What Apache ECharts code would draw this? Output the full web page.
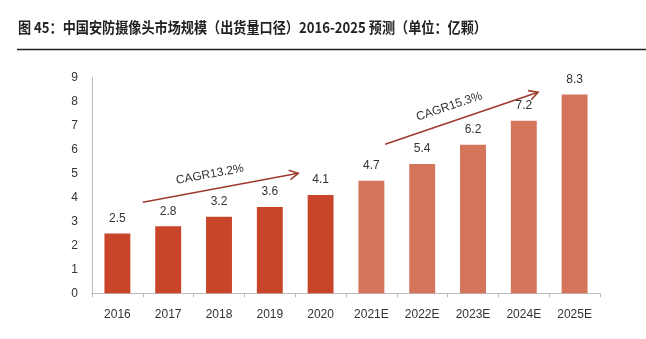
<!DOCTYPE html>
<html><head><meta charset="utf-8">
<script src="https://cdn.jsdelivr.net/npm/echarts@6/dist/echarts.min.js"></script>
<style>html,body{margin:0;padding:0;background:#fff}#c{width:646px;height:339px}</style>
</head><body><div id="c"></div>
<script>
const categories = ['2016','2017','2018','2019','2020','2021E','2022E','2023E','2024E','2025E'];
const values = [2.5, 2.8, 3.2, 3.6, 4.1, 4.7, 5.4, 6.2, 7.2, 8.3];
const yTicks = [0,1,2,3,4,5,6,7,8,9];
const forecastStart = 5;
// annotation arrows: [x-index (fractional), value] start/end, label
const arrow1 = {from:[0.5,3.8], to:[3.56,5.01], text:'CAGR13.2%'};
const arrow2 = {from:[5.27,6.22], to:[8.28,8.39], text:'CAGR15.3%'};

const dark = '#C8452A', light = '#D3745B', arrowColor = '#9E3B2E';
const chart = echarts.init(document.getElementById('c'));
const font = '"Liberation Sans", Arial, sans-serif';
chart.setOption({
  animation:false,
  grid:{left:92,right:46,top:77.7,bottom:45.7},
  xAxis:{type:'category',data:categories,
    axisLine:{lineStyle:{color:'#bbb'}},axisTick:{show:true,length:4,lineStyle:{color:'#bbb'}},
    axisLabel:{color:'#333',fontSize:12,margin:15,fontFamily:font}},
  yAxis:{type:'value',min:yTicks[0],max:yTicks[yTicks.length-1],interval:1,
    axisLine:{show:true,lineStyle:{color:'#bbb'}},axisTick:{show:false},splitLine:{show:false},
    axisLabel:{color:'#333',fontSize:12,margin:14,fontFamily:font}},
  series:[{type:'bar',barWidth:'51%',
    data:values.map((v,i)=>({value:v,itemStyle:{color:i<forecastStart?dark:light}})),
    label:{show:true,position:'top',distance:9,color:'#333',fontSize:12,fontFamily:font}}]
});
function toPx(pt){
  const i = Math.floor(pt[0]), f = pt[0]-i;
  const a = chart.convertToPixel({gridIndex:0},[i,pt[1]]);
  const b = chart.convertToPixel({gridIndex:0},[i+1,pt[1]]);
  return [a[0]+(b[0]-a[0])*f, a[1]];
}
function arrowGraphics(a){
  const p1 = toPx(a.from), p2 = toPx(a.to);
  const ang = Math.atan2(p2[1]-p1[1], p2[0]-p1[0]);
  const L = 10, w = 0.5;
  const h1 = [p2[0]-L*Math.cos(ang-w), p2[1]-L*Math.sin(ang-w)];
  const h2 = [p2[0]-L*Math.cos(ang+w), p2[1]-L*Math.sin(ang+w)];
  const mx = (p1[0]+p2[0])/2, my = (p1[1]+p2[1])/2;
  // perpendicular (upward) and along-line offsets
  const nx = Math.sin(ang), ny = -Math.cos(ang);
  const tx = mx + nx*15 - Math.cos(ang)*8, ty = my + ny*15 - Math.sin(ang)*8;
  return [
    {type:'line',shape:{x1:p1[0],y1:p1[1],x2:p2[0],y2:p2[1]},style:{stroke:arrowColor,lineWidth:1.6}},
    {type:'polyline',shape:{points:[h1,p2,h2]},style:{stroke:arrowColor,lineWidth:1.6,fill:null}},
    {type:'text',x:tx,y:ty,rotation:-ang,
      style:{text:a.text,fill:'#333',font:'12px '+font,align:'center',verticalAlign:'middle'}}
  ];
}
chart.setOption({graphic:[
  {type:'text',x:18,y:27,scaleX:0.875,
    style:{text:'图 45：中国安防摄像头市场规模（出货量口径）2016-2025 预测（单位：亿颗）',
      font:'bold 15px "Noto Sans CJK SC", sans-serif',fill:'#222',verticalAlign:'middle'}},
  {type:'line',shape:{x1:17,y1:49.5,x2:646,y2:49.5},style:{stroke:'#222',lineWidth:1.5}},
  ...arrowGraphics(arrow1),...arrowGraphics(arrow2)]});
</script></body></html>
